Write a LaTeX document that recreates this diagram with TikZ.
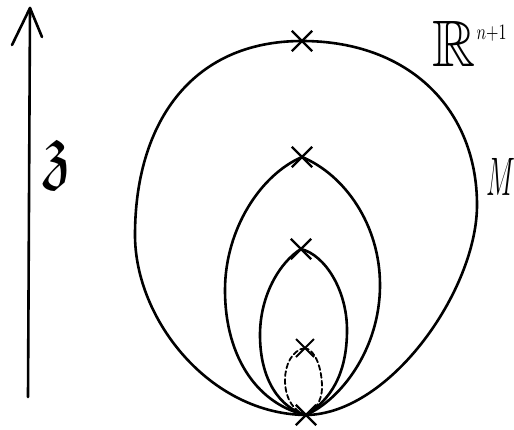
\documentclass[tikz,border=0pt]{standalone}
\usepackage{amssymb}
\usepackage{graphicx}
\usetikzlibrary{shapes.misc}
\begin{document}
\begin{tikzpicture}[x=0.5pt,y=-0.5pt,
  curve/.style={line width=1.3pt, line cap=round, line join=round},
  dcurve/.style={line width=0.9pt, dash pattern=on 2.5pt off 1.5pt, line cap=round},
  xmark/.style={draw, cross out, line width=1.2pt, minimum size=9pt, inner sep=0pt},
  lbl/.style={inner sep=0pt}]
\useasboundingbox (0,0) rectangle (514,429);
% marks
\node[xmark] (t1) at (302,41) {};
\node[xmark] (t2) at (302,157) {};
\node[xmark] (t3) at (301,249) {};
\node[xmark, line width=1pt, minimum size=8pt] (t4) at (305,348) {};
\node[xmark] (b) at (306,415) {};
% extreme points
\coordinate (oL) at (135,235);
\coordinate (oR) at (477,205);
\coordinate (mL) at (225,290);
\coordinate (mR) at (380,285);
\coordinate (iL) at (260,335);
\coordinate (iR) at (347,330);
\coordinate (dL) at (285,380);
\coordinate (dR) at (322,387);
% z axis
\coordinate (z0) at (28,397);
\coordinate (z1) at (30,8);
\coordinate (zl) at (12,45);
\coordinate (zr) at (42,37);
\draw[curve] (z0) -- (z1);
\draw[curve] (zl) -- (z1) -- (zr);
% outer curve M
\draw[curve] (t1.center) .. controls (190,41) and (135,125) .. (oL)
  .. controls (135,320) and (210,414) .. (b.center)
  .. controls (390,414) and (477,290) .. (oR)
  .. controls (477,110) and (410,41) .. (t1.center);
% second
\draw[curve] (t2.center) .. controls (260,175) and (225,230) .. (mL)
  .. controls (225,360) and (260,405) .. (b.center)
  .. controls (340,400) and (380,350) .. (mR)
  .. controls (380,225) and (345,175) .. (t2.center);
% third
\draw[curve] (t3.center) .. controls (280,262) and (260,295) .. (iL)
  .. controls (260,380) and (280,408) .. (b.center)
  .. controls (330,400) and (347,375) .. (iR)
  .. controls (347,290) and (325,255) .. (t3.center);
% dashed
\draw[dcurve] (t4.center) .. controls (292,350) and (285,365) .. (dL)
  .. controls (285,400) and (295,412) .. (b.center)
  .. controls (313,412) and (322,403) .. (dR)
  .. controls (322,370) and (316,350) .. (t4.center);
% labels
\node[lbl, anchor=base west] (R) at (432,66) {\scalebox{1.2}[1.32]{\Huge$\mathbb{R}$}\hspace{0.5pt}\raisebox{13.5pt}{\scalebox{0.8}[1.1]{\normalsize$n{+}1$}}};
\node[lbl, anchor=base west] (M) at (486,195) {\scalebox{0.55}[1.09]{\Huge$M$}};
\node[lbl] (z) at (58,165) {\scalebox{1.5}{\Huge$\mathfrak{z}$}};
\end{tikzpicture}
\end{document}
